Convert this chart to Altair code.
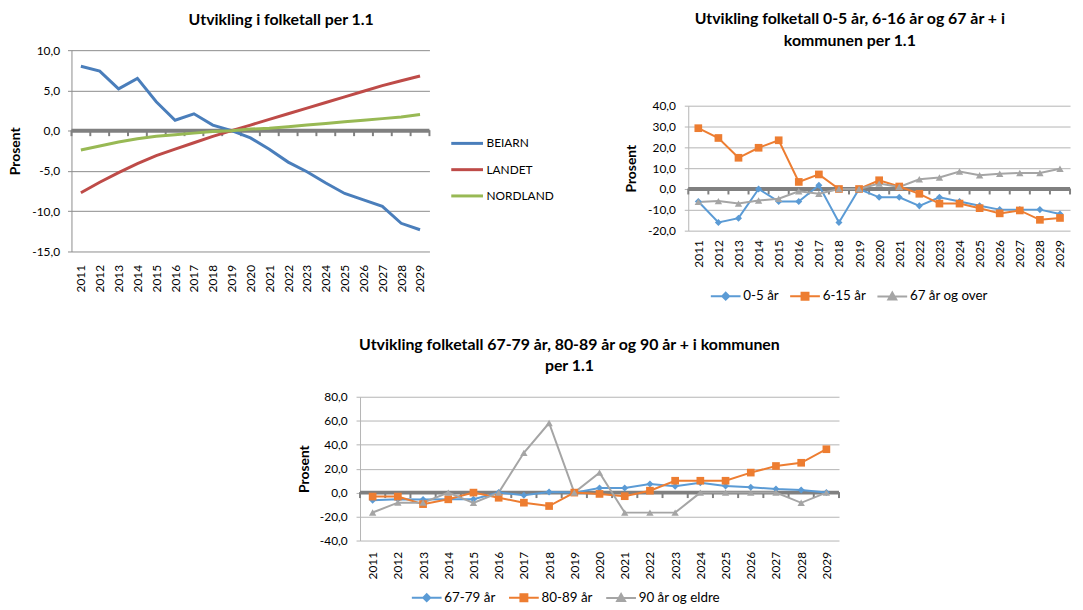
import altair as alt
import pandas as pd

FONT = "Lato"

# ---------------- data ----------------
years = list(range(2011, 2030))

p1_series = ["BEIARN", "LANDET", "NORDLAND"]
beiarn = [8.0, 7.4, 5.2, 6.5, 3.6, 1.3, 2.1, 0.7, 0.0, -0.9, -2.3, -3.9, -5.1, -6.5, -7.8, -8.6, -9.4, -11.5, -12.3]
landet = [-7.7, -6.4, -5.2, -4.1, -3.1, -2.3, -1.5, -0.7, 0.0, 0.7, 1.4, 2.1, 2.8, 3.5, 4.2, 4.9, 5.6, 6.2, 6.8]
nordland = [-2.4, -1.9, -1.4, -1.0, -0.7, -0.5, -0.3, -0.1, 0.0, 0.2, 0.3, 0.5, 0.7, 0.9, 1.1, 1.3, 1.5, 1.7, 2.0]
p1_colors = ["#4A7EBB", "#BE4B48", "#98B954"]

p2_series = ["0-5 år", "6-15 år", "67 år og over"]
age_0_5 = [-6.0, -16.1, -14.0, 0.0, -6.0, -6.0, 1.8, -16.1, 0.0, -4.0, -4.0, -8.1, -4.0, -6.0, -8.0, -9.9, -9.9, -9.9, -12.0]
age_6_15 = [29.2, 24.5, 15.0, 19.8, 23.4, 3.4, 7.0, 0.0, 0.0, 4.2, 1.2, -2.3, -7.0, -7.0, -9.2, -11.7, -10.3, -14.8, -13.9]
age_67_plus = [-6.2, -5.8, -7.0, -5.5, -4.7, -1.1, -2.3, 0.0, 0.0, 2.6, 1.0, 4.7, 5.5, 8.4, 6.6, 7.3, 7.7, 7.7, 9.7]

p3_series = ["67-79 år", "80-89 år", "90 år og eldre"]
age_67_79 = [-6.3, -5.5, -5.8, -5.5, -5.5, 0.0, -2.2, 0.5, 0.0, 3.8, 3.8, 7.1, 5.3, 8.2, 5.5, 4.4, 3.0, 2.2, 0.0]
age_80_89 = [-3.3, -3.3, -9.6, -5.6, 0.0, -4.3, -8.4, -11.2, 0.0, -1.1, -3.0, 1.6, 9.9, 9.9, 9.9, 16.7, 22.2, 24.9, 36.2]
age_90_plus = [-16.6, -8.4, -8.4, 0.0, -8.6, 0.0, 33.2, 58.1, 0.0, 16.7, -16.7, -16.7, -16.7, 0.0, 0.0, 0.0, 0.0, -8.5, 0.0]

marker_colors = ["#5B9BD5", "#ED7D31", "#A5A5A5"]
marker_shapes = ["diamond", "square", "triangle-up"]
marker_sizes = [50, 60, 55]
legend_paths = [
    "M-3,0H3M0,-0.7L0.7,0L0,0.7L-0.7,0ZM0,-0.35L0.35,0L0,0.35L-0.35,0Z",
    "M-3,0H3M-0.7,-0.7H0.7V0.7H-0.7ZM-0.35,-0.35H0.35V0.35H-0.35Z",
    "M-3,0H3M0,-0.8L0.8,0.6H-0.8ZM0,-0.35L0.35,0.3H-0.35Z",
]

LABEL_EXPR = "(datum.value < 0 ? '-' : '') + replace(format(abs(datum.value), '.1f'), '.', ',')"
INDEP = dict(color="independent", fill="independent", stroke="independent", shape="independent")


def long_table(names, columns):
    rows = []
    for name, vals in zip(names, columns):
        for yr, v in zip(years, vals):
            rows.append({"År": yr, "Prosent": v, "Serie": name})
    return pd.DataFrame(rows)


edges = pd.DataFrame({"År": [y - 0.5 for y in years] + [years[-1] + 0.5]})
edges["Prosent"] = 0.0
zero_df = pd.DataFrame({"År": [years[0]], "Prosent": [0.0]})


def enc_x(label_pad):
    return alt.X(
        "År:Q",
        scale=alt.Scale(domain=[years[0] - 0.5, years[-1] + 0.5], nice=False, zero=False),
        axis=alt.Axis(values=years, format="d", labelAngle=270, grid=False, ticks=False, domain=False,
                      labelPadding=label_pad, labelFontSize=12, labelColor="#000000", labelFlush=False,
                      labelOverlap=False, title=None),
    )


def enc_y(domain, ticks, height, grid_color, label_pad, title_x):
    return alt.Y(
        "Prosent:Q",
        scale=alt.Scale(domain=domain, nice=False, zero=False),
        axis=alt.Axis(values=ticks, labelExpr=LABEL_EXPR, grid=True, gridColor=grid_color, gridWidth=1,
                      domain=True, domainColor=grid_color, ticks=True, tickColor=grid_color, tickSize=4,
                      labelPadding=label_pad, labelFontSize=12, labelColor="#000000", labelOverlap=False,
                      title="Prosent", titleFontSize=14, titleFontWeight="bold", titleColor="#000000",
                      titleAngle=270, titleX=title_x, titleY=height / 2, titleAlign="center",
                      titleBaseline="middle"),
    )


def zero_axis(xe, ye):
    rule = alt.Chart(zero_df).mark_rule(color="#808080", strokeWidth=4).encode(y=ye)
    ticks = alt.Chart(edges).mark_tick(orient="vertical", color="#808080", thickness=2, size=6,
                                       yOffset=2.5, opacity=1).encode(x=xe, y=ye)
    return rule, ticks


def title(lines, offset, line_height=22):
    return alt.TitleParams(text=lines, fontSize=16, fontWeight="bold", font=FONT, color="#000000",
                           offset=offset, anchor="middle", frame="bounds", lineHeight=line_height)


# ---------------- panel 1 ----------------
W1, H1 = 361, 203
d1 = long_table(p1_series, [beiarn, landet, nordland])
xe1 = enc_x(13)
ye1 = enc_y([-15, 10], [-15, -10, -5, 0, 5, 10], H1, "#8C8C8C", 8, -56.5)
r1, t1 = zero_axis(xe1, ye1)
lines1 = alt.Chart(d1).mark_line(strokeWidth=3).encode(
    x=xe1, y=ye1,
    color=alt.Color("Serie:N", scale=alt.Scale(domain=p1_series, range=p1_colors),
                    legend=alt.Legend(orient="none", legendX=387.5, legendY=82.5, direction="vertical",
                                      title=None, symbolType="M-1.6,0H1.6", symbolSize=400,
                                      symbolStrokeWidth=3, labelFontSize=12, labelColor="#000000",
                                      labelOffset=8, rowPadding=8.5, padding=0)),
)
panel1 = alt.layer(r1, t1, lines1).properties(
    width=W1, height=H1, title=title("Utvikling i folketall per 1.1", 16.5, 16))


# ---------------- marker panels ----------------
def marker_panel(names, cols, domain, ticks, w, h, title_lines, title_offset, lx, ly, colpad,
                 xpad, ypad, title_x, grid_color):
    d = long_table(names, cols)
    xe = enc_x(xpad)
    ye = enc_y(domain, ticks, h, grid_color, ypad, title_x)
    rule, tks = zero_axis(xe, ye)
    layers = [rule, tks]
    for name, col in zip(names, marker_colors):
        layers.append(
            alt.Chart(d).transform_filter(alt.datum.Serie == name)
            .mark_line(strokeWidth=2, color=col).encode(x=xe, y=ye)
        )
    for name, shp, sz, col in zip(names, marker_shapes, marker_sizes, marker_colors):
        layers.append(
            alt.Chart(d).transform_filter(alt.datum.Serie == name)
            .mark_point(shape=shp, filled=True, size=sz, color=col, opacity=1)
            .encode(x=xe, y=ye)
        )
    leg = alt.Legend(orient="none", legendX=lx, legendY=ly, direction="horizontal", title=None,
                     symbolSize=100, symbolStrokeWidth=2, symbolOpacity=1, labelOffset=11,
                     columnPadding=colpad, padding=0, labelFontSize=13.5, labelColor="#000000")
    layers.append(
        alt.Chart(d).mark_point(filled=False, opacity=0, size=100).encode(
            x=xe, y=ye,
            color=alt.Color("Serie:N", scale=alt.Scale(domain=names, range=marker_colors), legend=leg),
            shape=alt.Shape("Serie:N", scale=alt.Scale(domain=names, range=legend_paths), legend=leg),
        )
    )
    return alt.layer(*layers).properties(width=w, height=h, title=title(title_lines, title_offset))


panel2 = marker_panel(
    p2_series, [age_0_5, age_6_15, age_67_plus], [-20, 40], [-20, -10, 0, 10, 20, 30, 40],
    385, 126, ["Utvikling folketall 0-5 år, 6-16 år og 67 år + i", "kommunen per 1.1"], 51,
    31, 185, 6, 9, 9, -57, "#B4B4B4")

panel3 = marker_panel(
    p3_series, [age_67_79, age_80_89, age_90_plus], [-40, 80], [-40, -20, 0, 20, 40, 60, 80],
    483, 145, ["Utvikling folketall 67-79 år, 80-89 år og 90 år + i kommunen", "per 1.1"], 16.5,
    60.5, 195.5, 9, 11, 9, -56, "#B4B4B4")


def blank(w, h):
    # an empty cell: no marks drawn, only reserves room in the layout
    return alt.Chart(zero_df).transform_filter("false").mark_point().encode(
        x=alt.value(0), y=alt.value(0)).properties(width=w, height=h)


def wrap(p):
    # a thin blank on top makes the panel's title (not its plot) the aligned edge
    return alt.vconcat(blank(1, 1), p, spacing=0).resolve_scale(**INDEP)


top = alt.hconcat(wrap(panel1), wrap(panel2), spacing=71).resolve_scale(**INDEP)
bottom = alt.hconcat(blank(228, 1), wrap(panel3), spacing=0).resolve_scale(**INDEP)

chart = alt.vconcat(top, bottom, spacing=31.5).resolve_scale(**INDEP).properties(
    padding={"left": 0, "top": 0, "right": 0, "bottom": 0}
).configure(font=FONT).configure_view(stroke=None)

chart.save("out.html", embed_options={"renderer": "svg", "actions": False})
